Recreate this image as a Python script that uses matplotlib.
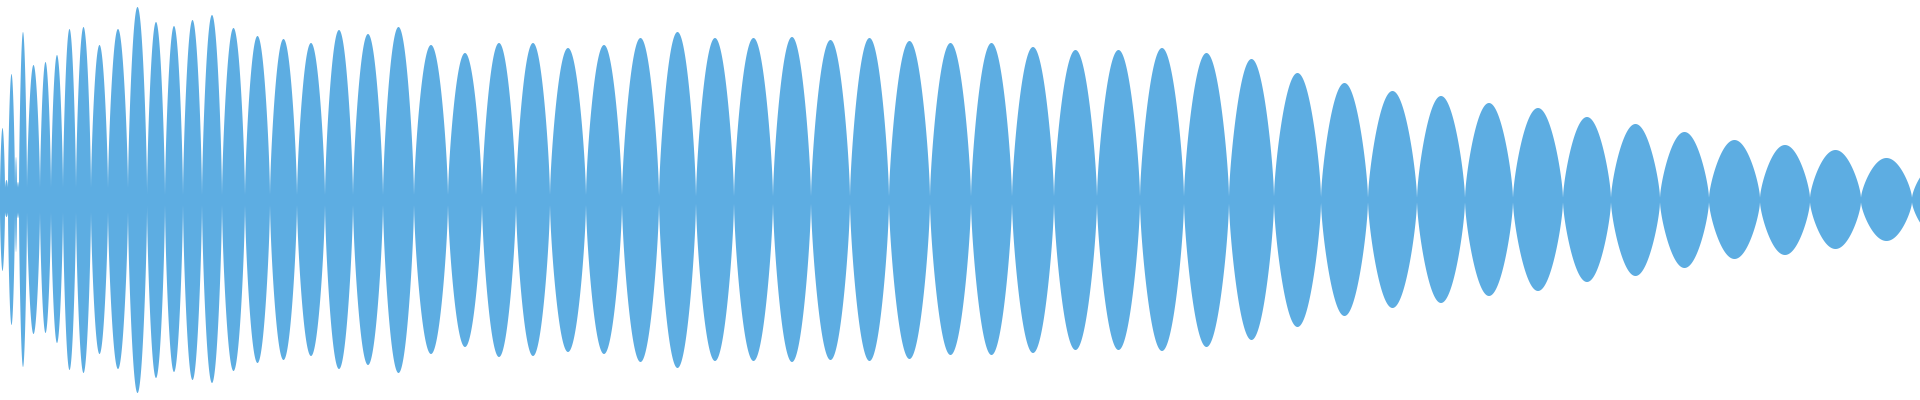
import numpy as np
import matplotlib
matplotlib.use('Agg')
import matplotlib.pyplot as plt

# zero crossings of the beat envelope (time, ms)
crossings = [0, 5, 8, 15, 17, 19, 27, 40, 51, 63, 76, 91, 108, 128,
             147, 165, 183, 202, 222, 245, 270, 297, 325, 353, 383, 414,
             448, 482, 516, 550, 586, 622, 659, 696, 734, 773, 811, 850,
             889, 930, 971, 1012, 1054, 1097, 1140, 1184, 1229, 1274, 1321,
             1368, 1417, 1465, 1513, 1563, 1611, 1660, 1709, 1760, 1810,
             1861, 1912, 1962]

# peak amplitude of each lobe, positive side
peak_top = [0.36, 0.10, 0.63, 0.215, 0.09, 0.84, 0.675, 0.69, 0.725, 0.855,
            0.865, 0.775, 0.855, 0.965, 0.89, 0.87, 0.90, 0.925, 0.86, 0.82,
            0.805, 0.785, 0.85, 0.83, 0.865, 0.775, 0.735, 0.785, 0.785, 0.76,
            0.775, 0.81, 0.84, 0.81, 0.81, 0.815, 0.80, 0.81, 0.795, 0.785,
            0.785, 0.765, 0.75, 0.75, 0.76, 0.735, 0.705, 0.635, 0.585, 0.545,
            0.52, 0.485, 0.46, 0.415, 0.38, 0.34, 0.30, 0.275, 0.25, 0.21, 0.18]

# peak amplitude of each lobe, negative side
peak_bottom = [0.355, 0.085, 0.625, 0.26, 0.09, 0.835, 0.67, 0.665, 0.715, 0.85,
               0.865, 0.77, 0.845, 0.965, 0.89, 0.86, 0.90, 0.915, 0.855, 0.815,
               0.80, 0.78, 0.845, 0.825, 0.865, 0.77, 0.735, 0.785, 0.78, 0.76,
               0.77, 0.81, 0.84, 0.805, 0.805, 0.81, 0.80, 0.805, 0.795, 0.775,
               0.775, 0.765, 0.75, 0.75, 0.755, 0.735, 0.70, 0.635, 0.58, 0.54,
               0.515, 0.48, 0.455, 0.41, 0.38, 0.34, 0.295, 0.275, 0.245, 0.205, 0.18]

# residual amplitude left at the crossings, by time range
floor_edges = [0, 130, 650, 1300]
floor_vals = [0.06, 0.025, 0.018, 0.012]

color = '#5DADE2'
shape_pow = 0.7

t_all, up_all, lo_all = [], [], []
for i in range(len(peak_top)):
    a, b = crossings[i], crossings[i + 1]
    t = np.linspace(a, b, 160)
    f = floor_vals[np.searchsorted(floor_edges, a, side='right') - 1]
    s = np.clip(np.sin(np.pi * (t - a) / (b - a)), 0, 1) ** shape_pow
    t_all.append(t)
    up_all.append(f + (peak_top[i] - f) * s)
    lo_all.append(-(f + (peak_bottom[i] - f) * s))

t_all = np.concatenate(t_all)
up_all = np.concatenate(up_all)
lo_all = np.concatenate(lo_all)

fig = plt.figure(figsize=(19.2, 4), dpi=100)
ax = fig.add_axes([0, 0, 1, 1])
ax.fill_between(t_all, lo_all, up_all, color=color, linewidth=0)
ax.set_xlim(0, 1920)
ax.set_ylim(-1, 1)
ax.axis('off')
fig.savefig('out.png', dpi=100)
